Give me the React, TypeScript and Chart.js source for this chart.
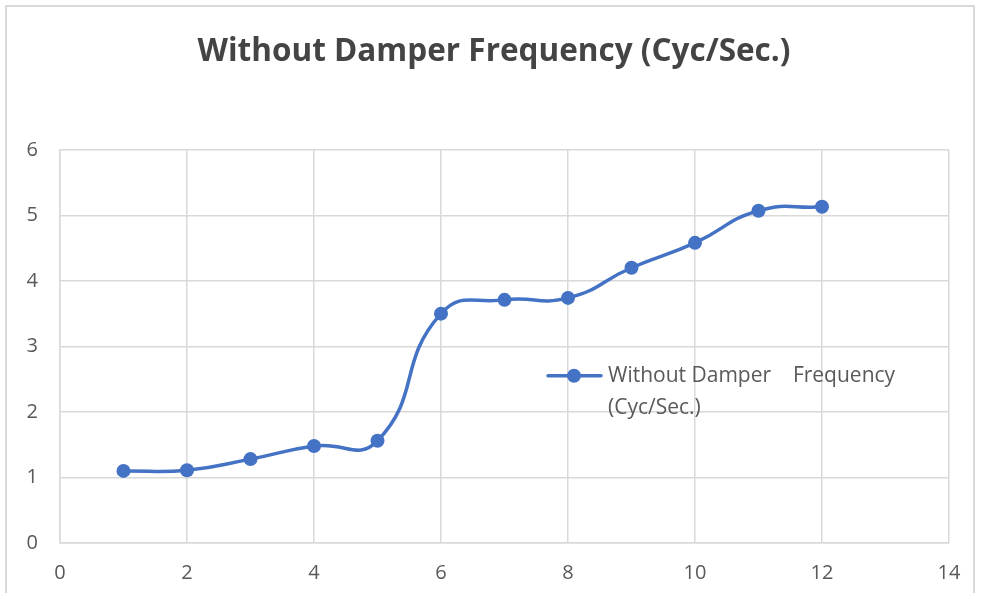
import React, { useEffect, useRef } from "react";
import { Chart, registerables } from "chart.js";

Chart.register(...registerables);

const TITLE = "Without Damper Frequency (Cyc/Sec.)";
const SERIES_LABEL = "Without Damper    Frequency (Cyc/Sec.)";
const LEGEND_LINES = ["Without Damper    Frequency", "(Cyc/Sec.)"];
const xValues = [1, 2, 3, 4, 5, 6, 7, 8, 9, 10, 11, 12];
const yValues = [1.1, 1.11, 1.28, 1.48, 1.56, 3.5, 3.71, 3.74, 4.2, 4.58, 5.07, 5.13];

const FONT = "'Open Sans', Lato, sans-serif";
const TEXT = "#595959";
const TITLE_COLOR = "#444444";
const GRID = "#d9d9d9";
const BLUE = "#4472C4";

const legendPlugin = {
  id: "insideLegend",
  afterLayout(chart: any) {
    // center the title over the framed chart rather than the canvas minus right padding
    if (chart.titleBlock) chart.titleBlock.left = 39;
  },
  afterDraw(chart: any) {
    const { ctx, chartArea } = chart;
    const lx = chartArea.left + 488;
    const ly = chartArea.top + 226;
    ctx.save();
    ctx.strokeStyle = BLUE;
    ctx.lineWidth = 3.5;
    ctx.lineCap = "round";
    ctx.beginPath();
    ctx.moveTo(lx, ly);
    ctx.lineTo(lx + 53, ly);
    ctx.stroke();
    ctx.fillStyle = BLUE;
    ctx.beginPath();
    ctx.arc(lx + 26, ly, 7, 0, Math.PI * 2);
    ctx.fill();
    ctx.fillStyle = TEXT;
    ctx.font = `21px ${FONT}`;
    ctx.textBaseline = "middle";
    ctx.textAlign = "left";
    LEGEND_LINES.forEach((t, i) => ctx.fillText(t, lx + 60, ly + i * 32));
    ctx.restore();
  },
};

export default function App() {
  const ref = useRef<HTMLCanvasElement | null>(null);
  useEffect(() => {
    document.body.style.margin = "0";
    const chart = new Chart(ref.current!, {
      type: "line",
      data: {
        datasets: [
          {
            label: SERIES_LABEL,
            data: xValues.map((x, i) => ({ x, y: yValues[i] })),
            borderColor: BLUE,
            backgroundColor: BLUE,
            borderWidth: 3.5,
            pointRadius: 7,
            pointHoverRadius: 7,
            pointBackgroundColor: BLUE,
            pointBorderWidth: 0,
            tension: 0.5,
            fill: false,
          },
        ],
      },
      options: {
        responsive: false,
        animation: false,
        layout: { padding: { left: 0, right: 32, top: 0, bottom: 0 } },
        plugins: {
          legend: { display: false },
          tooltip: { enabled: false },
          title: {
            display: true,
            text: TITLE,
            color: TITLE_COLOR,
            font: { family: FONT, size: 31.5, weight: "bold" },
            padding: { top: 33, bottom: 79 },
          },
        },
        scales: {
          x: {
            type: "linear",
            min: 0,
            max: 14,
            ticks: { stepSize: 2, color: TEXT, font: { family: FONT, size: 20 }, padding: 18 },
            grid: { color: GRID, lineWidth: 1.5, drawTicks: false },
            border: { color: GRID, width: 1.5 },
            afterFit: (s: any) => { s.height = 50; },
          },
          y: {
            min: 0,
            max: 6,
            ticks: { stepSize: 1, color: TEXT, font: { family: FONT, size: 20 }, padding: 22 },
            grid: { color: GRID, lineWidth: 1.5, drawTicks: false },
            border: { color: GRID, width: 1.5 },
            afterFit: (s: any) => { s.width = 60; },
          },
        },
      },
      plugins: [legendPlugin],
    });
    return () => chart.destroy();
  }, []);
  return (
    <div style={{ position: "fixed", left: 0, top: 0, width: 981, height: 593, background: "#fff" }}>
      <canvas ref={ref} width={981} height={593} style={{ position: "absolute", left: 0, top: 0 }} />
      <div
        style={{
          position: "absolute",
          left: 5,
          top: 5,
          width: 966,
          height: 600,
          border: `2px solid ${GRID}`,
          pointerEvents: "none",
        }}
      />
    </div>
  );
}
